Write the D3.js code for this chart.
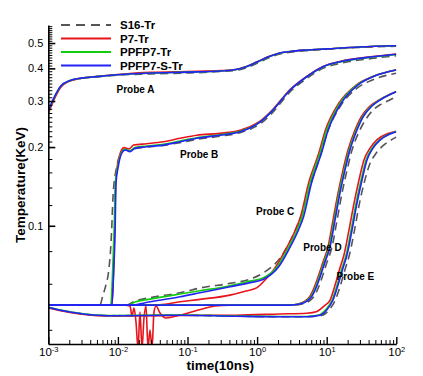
<!DOCTYPE html>
<html>
<head>
<meta charset="utf-8">
<script src="https://d3js.org/d3.v7.min.js"></script>
<style>
  body { margin: 0; background: #fff; }
  text { font-family: Arial, "Liberation Sans", sans-serif; }
</style>
</head>
<body>
<svg width="423" height="376"></svg>
<script>
// ---------------- data: [time (10ns), temperature (KeV)] ----------------
const probeA_S16   = [[0.001,0.273],[0.0012,0.306],[0.0015,0.341],[0.002,0.358],[0.003,0.366],[0.005,0.371],[0.01,0.377],[0.03,0.381],[0.1,0.384],[0.3,0.389],[0.5,0.393],[0.7,0.402],[1,0.418],[1.5,0.440],[2,0.452],[3,0.461],[5,0.467],[10,0.473],[30,0.481],[100,0.486]];
const probeA_P7    = [[0.001,0.268],[0.0012,0.302],[0.0015,0.338],[0.002,0.357],[0.003,0.367],[0.005,0.373],[0.01,0.379],[0.03,0.386],[0.1,0.389],[0.3,0.392],[0.5,0.396],[0.7,0.407],[1,0.424],[1.5,0.445],[2,0.456],[3,0.464],[5,0.470],[10,0.475],[30,0.483],[100,0.488]];
const probeA_PPFP7 = [[0.001,0.274],[0.0012,0.307],[0.0015,0.341],[0.002,0.358],[0.003,0.367],[0.005,0.372],[0.01,0.378],[0.03,0.384],[0.1,0.387],[0.3,0.391],[0.5,0.396],[0.7,0.406],[1,0.422],[1.5,0.444],[2,0.455],[3,0.464],[5,0.470],[10,0.475],[30,0.483],[100,0.488]];
const probeA_PPFP7S= [[0.001,0.275],[0.0012,0.308],[0.0015,0.342],[0.002,0.359],[0.003,0.367],[0.005,0.372],[0.01,0.378],[0.03,0.384],[0.1,0.387],[0.3,0.391],[0.5,0.396],[0.7,0.406],[1,0.423],[1.5,0.444],[2,0.456],[3,0.464],[5,0.470],[10,0.475],[30,0.483],[100,0.488]];

const probeB_S16   = [[0.001,0.0497],[0.0055,0.0497],[0.0061,0.0543],[0.0068,0.060],[0.0073,0.0659],[0.0081,0.0938],[0.0085,0.1287],[0.0095,0.166],[0.0111,0.188],[0.0127,0.195],[0.0149,0.194],[0.0176,0.197],[0.026,0.200],[0.045,0.203],[0.078,0.208],[0.136,0.214],[0.293,0.220],[0.568,0.227],[0.79,0.234],[1.1,0.245],[1.69,0.272],[2.97,0.325],[5.16,0.366],[8.85,0.400],[15.5,0.418],[46.3,0.437],[100,0.447]];
const probeB_P7    = [[0.001,0.0497],[0.0082,0.0497],[0.0086,0.064],[0.009,0.097],[0.0093,0.148],[0.0099,0.172],[0.011,0.192],[0.0122,0.199],[0.0145,0.197],[0.0168,0.2035],[0.026,0.206],[0.045,0.2096],[0.078,0.216],[0.136,0.222],[0.293,0.2257],[0.568,0.232],[0.79,0.239],[1.1,0.251],[1.69,0.279],[2.97,0.332],[5.16,0.373],[8.85,0.407],[15.5,0.425],[46.3,0.444],[100,0.454]];
const probeB_PPFP7 = [[0.001,0.0497],[0.0079,0.0497],[0.0083,0.062],[0.0088,0.0938],[0.0092,0.146],[0.0099,0.168],[0.0111,0.189],[0.0125,0.196],[0.0149,0.194],[0.0176,0.199],[0.0259,0.202],[0.045,0.205],[0.078,0.211],[0.136,0.217],[0.293,0.223],[0.568,0.230],[0.79,0.237],[1.1,0.249],[1.69,0.277],[2.97,0.330],[5.16,0.371],[8.85,0.405],[15.5,0.423],[46.3,0.442],[100,0.452]];
const probeB_PPFP7S= [[0.001,0.0497],[0.0082,0.0497],[0.0086,0.062],[0.0091,0.0938],[0.0094,0.146],[0.0101,0.168],[0.0113,0.189],[0.0127,0.195],[0.0149,0.192],[0.0176,0.198],[0.0259,0.2005],[0.045,0.2035],[0.078,0.2096],[0.136,0.216],[0.293,0.222],[0.568,0.229],[0.79,0.2365],[1.1,0.249],[1.69,0.277],[2.97,0.330],[5.16,0.3715],[8.85,0.406],[15.5,0.424],[46.3,0.443],[100,0.453]];

const probeC_S16   = [[0.001,0.0497],[0.013,0.0497],[0.0176,0.0515],[0.0289,0.0531],[0.078,0.0554],[0.151,0.0578],[0.408,0.0602],[0.79,0.0625],[1.215,0.0659],[2.2,0.0761],[3.39,0.0938],[4.42,0.112],[5.76,0.142],[8.01,0.184],[10,0.224],[15.5,0.285],[27,0.335],[46.3,0.362],[100,0.383]];
const probeC_P7    = [[0.001,0.0497],[0.04,0.0499],[0.078,0.0512],[0.151,0.0523],[0.408,0.0543],[0.693,0.0563],[1.0,0.0580],[1.30,0.0620],[1.64,0.0665],[2.55,0.0807],[3.55,0.0963],[4.2,0.108],[5.5,0.1457],[7.7,0.1897],[9.6,0.2323],[15,0.2947],[26.5,0.3454],[46,0.3723],[100,0.395]];
const probeC_PPFP7 = [[0.001,0.0497],[0.014,0.0497],[0.0176,0.0511],[0.0289,0.0524],[0.078,0.0548],[0.151,0.0564],[0.408,0.0590],[0.79,0.0614],[1.215,0.0631],[1.93,0.0695],[2.69,0.0807],[3.75,0.0963],[4.42,0.108],[5.76,0.1457],[8.01,0.1897],[10,0.2323],[15.5,0.2947],[27,0.3454],[46.3,0.3723],[100,0.394]];
const probeC_PPFP7S= [[0.001,0.0497],[0.015,0.0497],[0.0289,0.0512],[0.078,0.0535],[0.151,0.0554],[0.408,0.0584],[0.79,0.0606],[1.215,0.0623],[2.03,0.0695],[2.83,0.0807],[3.93,0.0963],[4.64,0.108],[6.05,0.1457],[8.41,0.1897],[10.5,0.2323],[16.2,0.2947],[28,0.3454],[47,0.3723],[100,0.394]];

const probeD_S16   = [[0.001,0.0497],[3.2,0.0497],[4.45,0.0502],[5.6,0.0515],[6.6,0.0538],[7.55,0.0578],[8.6,0.0636],[10.1,0.0726],[11.9,0.0829],[14.1,0.1051],[16.6,0.1334],[19.6,0.1633],[23.1,0.1948],[29.2,0.2290],[36,0.2540],[47,0.2780],[61,0.2920],[83,0.3040],[100,0.3116]];
const probeD_P7    = [[0.001,0.0497],[0.01265,0.0497],[0.01493,0.0493],[0.01594,0.0451],[0.01703,0.0484],[0.0182,0.0428],[0.01945,0.034],[0.02077,0.0468],[0.0222,0.034],[0.02371,0.0444],[0.02533,0.0493],[0.02707,0.034],[0.0289,0.0399],[0.0309,0.034],[0.033,0.0468],[0.03527,0.0493],[0.04026,0.0464],[0.0491,0.0444],[0.078,0.0455],[0.1282,0.0472],[0.1784,0.0484],[0.2485,0.0493],[0.408,0.0497],[2.97,0.0497],[3.87,0.0502],[4.88,0.0515],[5.76,0.0538],[6.57,0.0578],[7.5,0.0636],[8.85,0.0726],[10.44,0.0829],[12.32,0.1051],[14.54,0.1334],[17.15,0.1633],[20.23,0.1948],[25.5,0.2323],[31.1,0.2605],[41.9,0.2871],[58.3,0.3041],[100,0.3264]];
const probeD_PPFP7 = [[0.001,0.0497],[2.9,0.0497],[4.0,0.0502],[5.05,0.0515],[5.97,0.0538],[6.81,0.0578],[7.77,0.0636],[9.17,0.0726],[10.8,0.0829],[12.8,0.1051],[15.0,0.1334],[17.8,0.1633],[21.0,0.1948],[26.5,0.2323],[32.5,0.2605],[44,0.2871],[57.5,0.3026],[80.5,0.3177],[100,0.3258]];
const probeD_PPFP7S= [[0.001,0.0497],[2.97,0.0497],[4.13,0.0502],[5.21,0.0515],[6.15,0.0538],[7.02,0.0578],[8.01,0.0636],[9.45,0.0726],[11.15,0.0829],[13.17,0.1051],[15.5,0.1334],[18.32,0.1633],[21.6,0.1948],[27.25,0.2323],[33.2,0.2605],[44.8,0.2871],[58.3,0.3026],[81.2,0.3177],[100,0.3256]];

const probeE_S16   = [[0.001,0.0487],[0.00164,0.0473],[0.00285,0.0462],[0.005,0.0455],[0.0096,0.0453],[0.078,0.0455],[0.5,0.0451],[2.13,0.0449],[5.4,0.0449],[8.7,0.0455],[10.8,0.0476],[13.3,0.052],[15.8,0.0593],[18.6,0.0689],[21.2,0.0773],[25.1,0.0963],[29.6,0.1221],[35,0.1480],[41.5,0.1720],[51,0.1890],[64,0.2020],[85,0.2130],[100,0.2184]];
const probeE_P7    = [[0.001,0.0485],[0.00164,0.0471],[0.00285,0.046],[0.005,0.0453],[0.0096,0.0452],[0.078,0.0454],[0.5,0.0455],[2.13,0.046],[5.16,0.0463],[7.25,0.047],[9.06,0.0492],[11.2,0.052],[13.2,0.0593],[15.5,0.0689],[17.7,0.0773],[20.9,0.0963],[24.7,0.1221],[29.1,0.1496],[34.3,0.1784],[42,0.1982],[53,0.2135],[76,0.2255],[100,0.2300]];
const probeE_PPFP7 = [[0.001,0.0488],[0.00164,0.0474],[0.00285,0.0463],[0.005,0.0456],[0.0096,0.0454],[0.078,0.0456],[0.5,0.0452],[2.13,0.045],[5.0,0.045],[7.8,0.0456],[9.7,0.0478],[11.95,0.052],[14.1,0.0593],[16.6,0.0689],[19.0,0.0773],[22.4,0.0963],[26.4,0.1221],[31.2,0.1496],[36.8,0.1784],[45,0.1982],[57,0.2127],[80,0.2245],[100,0.2292]];
const probeE_PPFP7S= [[0.001,0.0487],[0.00164,0.0473],[0.00285,0.0462],[0.005,0.0455],[0.0096,0.0453],[0.078,0.0455],[0.5,0.0451],[2.13,0.0449],[5.16,0.0449],[8.01,0.0455],[10,0.0476],[12.32,0.052],[14.54,0.0593],[17.15,0.0689],[19.57,0.0773],[23.1,0.0963],[27.25,0.1221],[32.15,0.1496],[37.9,0.1784],[46.3,0.1982],[58.3,0.2127],[81.2,0.2243],[100,0.2289]];

const seriesNames = ["S16-Tr", "P7-Tr", "PPFP7-Tr", "PPFP7-S-Tr"];
const probeNames  = ["Probe A", "Probe B", "Probe C", "Probe D", "Probe E"];
const xMajorTicks = [1e-3, 1e-2, 1e-1, 1e0, 1e1, 1e2];
const yMajorTicks = [0.1, 0.2, 0.3, 0.4, 0.5];
const yMinorTicks = [0.04, 0.06, 0.08, 0.12, 0.14, 0.16, 0.18,
  0.21, 0.22, 0.23, 0.24, 0.25, 0.26, 0.27, 0.28, 0.29,
  0.31, 0.32, 0.33, 0.34, 0.35, 0.36, 0.37, 0.38, 0.39,
  0.41, 0.42, 0.43, 0.44, 0.45, 0.46, 0.47, 0.48, 0.49,
  0.51, 0.52, 0.53, 0.54, 0.55, 0.56, 0.57, 0.58];

// ---------------- setup ----------------
const svg = d3.select("svg");
const plotL = 48.3, plotR = 396.3, plotT = 25, plotB = 344;

const x = d3.scaleLog().domain([1e-3, 1e2]).range([plotL, plotR]);
const y = d3.scaleLog().domain([0.0353, 0.586]).range([plotB, plotT]);

const styles = {
  "S16-Tr":     { color: "#555555", dash: "8,5" },
  "P7-Tr":      { color: "#e8141b", dash: null },
  "PPFP7-Tr":   { color: "#12cc12", dash: null },
  "PPFP7-S-Tr": { color: "#2323f5", dash: null }
};

const probes = [
  [probeA_S16, probeA_P7, probeA_PPFP7, probeA_PPFP7S],
  [probeB_S16, probeB_P7, probeB_PPFP7, probeB_PPFP7S],
  [probeC_S16, probeC_P7, probeC_PPFP7, probeC_PPFP7S],
  [probeD_S16, probeD_P7, probeD_PPFP7, probeD_PPFP7S],
  [probeE_S16, probeE_P7, probeE_PPFP7, probeE_PPFP7S]
];

svg.append("defs").append("clipPath").attr("id", "plotclip")
  .append("rect").attr("x", plotL).attr("y", plotT)
  .attr("width", plotR - plotL).attr("height", plotB - plotT);

// ---------------- lines ----------------
const line = d3.line()
  .x(d => x(d[0]))
  .y(d => y(d[1]))
  .curve(d3.curveMonotoneX);

const plot = svg.append("g").attr("clip-path", "url(#plotclip)");

// draw series by series so the blue sits on top, like the original
seriesNames.forEach((name, si) => {
  probes.forEach(p => {
    plot.append("path")
      .datum(p[si])
      .attr("d", line)
      .attr("fill", "none")
      .attr("stroke", styles[name].color)
      .attr("stroke-width", 1.6)
      .attr("stroke-dasharray", styles[name].dash);
  });
});

// ---------------- axes ----------------
// x minor ticks
svg.append("g")
  .attr("transform", "translate(0," + plotB + ")")
  .call(d3.axisBottom(x)
    .tickValues(x.ticks().filter(v => xMajorTicks.indexOf(v) < 0))
    .tickSize(-4).tickFormat(""))
  .call(g => g.select(".domain").remove());

// x major ticks + labels
const gx = svg.append("g")
  .attr("transform", "translate(0," + plotB + ")")
  .call(d3.axisBottom(x).tickValues(xMajorTicks).tickSize(-7).tickSizeOuter(0).tickPadding(4));
gx.select(".domain").attr("stroke-width", 1.6);
gx.selectAll(".tick line").attr("stroke-width", 1.4);
gx.selectAll(".tick text")
  .attr("font-size", "11.5px")
  .attr("fill", "#000")
  .each(function(d) {
    const e = Math.round(Math.log10(d));
    const t = d3.select(this).text("");
    t.append("tspan").text("10");
    t.append("tspan").attr("dy", "-0.5em").attr("font-size", "7.5px").text(String(e));
  });

// y minor ticks
svg.append("g")
  .attr("transform", "translate(" + plotL + ",0)")
  .call(d3.axisLeft(y).tickValues(yMinorTicks).tickSize(-4).tickFormat(""))
  .call(g => g.select(".domain").remove());

// y major ticks + labels
const gy = svg.append("g")
  .attr("transform", "translate(" + plotL + ",0)")
  .call(d3.axisLeft(y).tickValues(yMajorTicks).tickSize(-7).tickSizeOuter(0)
    .tickPadding(5).tickFormat(d3.format(".1f")));
gy.select(".domain").attr("stroke-width", 1.6);
gy.selectAll(".tick line").attr("stroke-width", 1.6);
gy.selectAll(".tick text").attr("font-size", "11px").attr("fill", "#000");

// axis titles
svg.append("text")
  .attr("x", (plotL + plotR) / 2 - 2).attr("y", 370)
  .attr("text-anchor", "middle")
  .attr("font-size", "13.5px").attr("font-weight", "bold")
  .text("time(10ns)");

svg.append("text")
  .attr("transform", "translate(25,185) rotate(-90)")
  .attr("text-anchor", "middle")
  .attr("font-size", "13.5px").attr("font-weight", "bold")
  .text("Temperature(KeV)");

// ---------------- probe labels ----------------
const labelPos = [[116.5, 93], [180, 158], [256, 214.5], [303.3, 251], [336.5, 280]];
probeNames.forEach((n, i) => {
  svg.append("text")
    .attr("x", labelPos[i][0]).attr("y", labelPos[i][1])
    .attr("font-size", "10px").attr("font-weight", "bold")
    .text(n);
});

// ---------------- legend ----------------
const legend = svg.append("g");
seriesNames.forEach((name, i) => {
  const ly = 25 + i * 13.5;
  legend.append("line")
    .attr("x1", 61).attr("x2", 111).attr("y1", ly).attr("y2", ly)
    .attr("stroke", styles[name].color)
    .attr("stroke-width", 2)
    .attr("stroke-dasharray", name === "S16-Tr" ? "9,6" : null);
  legend.append("text")
    .attr("x", 120).attr("y", ly + 4)
    .attr("font-size", "11.5px").attr("font-weight", "bold")
    .text(name);
});
</script>
</body>
</html>
